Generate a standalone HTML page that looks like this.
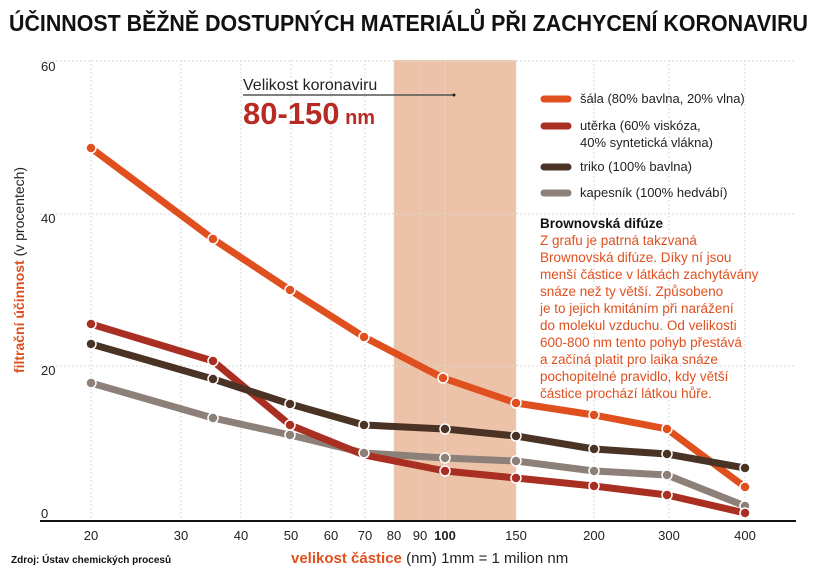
<!DOCTYPE html>
<html><head><meta charset="utf-8"><style>
html,body{margin:0;padding:0;background:#fff;}
svg{display:block;font-family:"Liberation Sans Narrow","Liberation Sans",sans-serif;}
</style></head><body>
<svg width="820" height="577" viewBox="0 0 820 577" xmlns="http://www.w3.org/2000/svg">
<text x="9" y="31" font-size="23" font-weight="bold" fill="#111" textLength="799" lengthAdjust="spacingAndGlyphs">ÚČINNOST BĚŽNĚ DOSTUPNÝCH MATERIÁLŮ PŘI ZACHYCENÍ KORONAVIRU</text>
<rect x="394" y="60" width="122" height="461" fill="#ecc3a8"/>
<g stroke="#dadada" stroke-width="1" stroke-dasharray="2,2">
<line x1="40" y1="61" x2="795" y2="61"/><line x1="40" y1="214" x2="795" y2="214"/><line x1="40" y1="366" x2="795" y2="366"/>
<line x1="91" y1="60" x2="91" y2="520"/><line x1="181" y1="60" x2="181" y2="520"/><line x1="241" y1="60" x2="241" y2="520"/>
<line x1="291" y1="60" x2="291" y2="520"/><line x1="331" y1="60" x2="331" y2="520"/><line x1="365" y1="60" x2="365" y2="520"/>
<line x1="394" y1="60" x2="394" y2="520"/><line x1="420" y1="60" x2="420" y2="520"/><line x1="445" y1="60" x2="445" y2="520"/>
<line x1="516" y1="60" x2="516" y2="520"/><line x1="594" y1="60" x2="594" y2="520"/><line x1="669" y1="60" x2="669" y2="520"/><line x1="745" y1="60" x2="745" y2="520"/>
</g>
<line x1="40" y1="521" x2="796" y2="521" stroke="#111" stroke-width="2"/>
<g font-size="13" fill="#222">
<text x="41" y="71">60</text><text x="41" y="223">40</text><text x="41" y="518">0</text><text x="41" y="375">20</text>
</g>
<g font-size="13" fill="#222" text-anchor="middle">
<text x="91" y="540">20</text><text x="181" y="540">30</text><text x="241" y="540">40</text><text x="291" y="540">50</text><text x="331" y="540">60</text><text x="365" y="540">70</text><text x="394" y="540">80</text><text x="420" y="540">90</text><text x="445" y="540" font-weight="bold">100</text><text x="516" y="540">150</text><text x="594" y="540">200</text><text x="669" y="540">300</text><text x="745" y="540">400</text>
</g>
<text x="243" y="90" font-size="16" fill="#222">Velikost koronaviru</text>
<line x1="243" y1="95" x2="455" y2="95" stroke="#555" stroke-width="1.5"/>
<circle cx="454" cy="95" r="1.5" fill="#222"/>
<text x="243" y="124" font-size="31" font-weight="bold" fill="#b82a24">80-150<tspan font-size="20"> nm</tspan></text>
<g fill="none" stroke-width="7" stroke-linecap="round" stroke-linejoin="round">
<polyline stroke="#e0501f" points="91,148 213,239 290,290 364,337 443,378 516,403 594,415 667,429 745,487"/>
<polyline stroke="#8c8078" points="91,383 213,418 290,435 364,453 445,458 516,461 594,471 667,475 745,506"/>
<polyline stroke="#a92f23" points="91,324 213,361 290,425 364,455 445,471 516,478 594,486 667,495 745,513"/>
<polyline stroke="#4a3325" points="91,344 213,379 290,404 364,425 445,429 516,436 594,449 667,454 745,468"/>
</g>
<g stroke="#fff" stroke-width="1.5">
<g fill="#e0501f"><circle cx="91" cy="148" r="5"/><circle cx="213" cy="239" r="5"/><circle cx="290" cy="290" r="5"/><circle cx="364" cy="337" r="5"/><circle cx="443" cy="378" r="5"/><circle cx="516" cy="403" r="5"/><circle cx="594" cy="415" r="5"/><circle cx="667" cy="429" r="5"/><circle cx="745" cy="487" r="5"/></g>
<g fill="#8c8078"><circle cx="91" cy="383" r="5"/><circle cx="213" cy="418" r="5"/><circle cx="290" cy="435" r="5"/><circle cx="364" cy="453" r="5"/><circle cx="445" cy="458" r="5"/><circle cx="516" cy="461" r="5"/><circle cx="594" cy="471" r="5"/><circle cx="667" cy="475" r="5"/><circle cx="745" cy="506" r="5"/></g>
<g fill="#a92f23"><circle cx="91" cy="324" r="5"/><circle cx="213" cy="361" r="5"/><circle cx="290" cy="425" r="5"/><circle cx="445" cy="471" r="5"/><circle cx="516" cy="478" r="5"/><circle cx="594" cy="486" r="5"/><circle cx="667" cy="495" r="5"/><circle cx="745" cy="513" r="5"/></g>
<g fill="#4a3325"><circle cx="91" cy="344" r="5"/><circle cx="213" cy="379" r="5"/><circle cx="290" cy="404" r="5"/><circle cx="364" cy="425" r="5"/><circle cx="445" cy="429" r="5"/><circle cx="516" cy="436" r="5"/><circle cx="594" cy="449" r="5"/><circle cx="667" cy="454" r="5"/><circle cx="745" cy="468" r="5"/></g>
</g>
<g stroke-width="7" stroke-linecap="round">
<line x1="544" y1="99" x2="568" y2="99" stroke="#e0501f"/>
<line x1="544" y1="126" x2="568" y2="126" stroke="#a92f23"/>
<line x1="544" y1="167" x2="568" y2="167" stroke="#4a3325"/>
<line x1="544" y1="193" x2="568" y2="193" stroke="#8c8078"/>
</g>
<g font-size="13" fill="#222">
<text x="580" y="103">šála (80% bavlna, 20% vlna)</text>
<text x="580" y="130">utěrka (60% viskóza,</text>
<text x="580" y="147">40% syntetická vlákna)</text>
<text x="580" y="171">triko (100% bavlna)</text>
<text x="580" y="197">kapesník (100% hedvábí)</text>
</g>
<text x="540" y="228" font-size="13.5" font-weight="bold" fill="#111">Brownovská difúze</text>
<g font-size="13.5" fill="#e0501f">
<text x="540" y="245">Z grafu je patrná takzvaná</text>
<text x="540" y="262">Brownovská difúze. Díky ní jsou</text>
<text x="540" y="279">menší částice v látkách zachytávány</text>
<text x="540" y="296">snáze než ty větší. Způsobeno</text>
<text x="540" y="313">je to jejich kmitáním při narážení</text>
<text x="540" y="330">do molekul vzduchu. Od velikosti</text>
<text x="540" y="347">600-800 nm tento pohyb přestává</text>
<text x="540" y="364">a začíná platit pro laika snáze</text>
<text x="540" y="381">pochopitelné pravidlo, kdy větší</text>
<text x="540" y="398">částice prochází látkou hůře.</text>
</g>
<text transform="translate(24,270) rotate(-90)" text-anchor="middle" font-size="14" fill="#222"><tspan fill="#e0501f" font-weight="bold">filtrační účinnost</tspan> (v procentech)</text>
<text x="11" y="563" font-size="10" font-weight="bold" fill="#111">Zdroj: Ústav chemických procesů</text>
<text x="291" y="563" font-size="15" fill="#222"><tspan fill="#e0501f" font-weight="bold">velikost částice</tspan> (nm) 1mm = 1 milion nm</text>
</svg>
</body></html>
